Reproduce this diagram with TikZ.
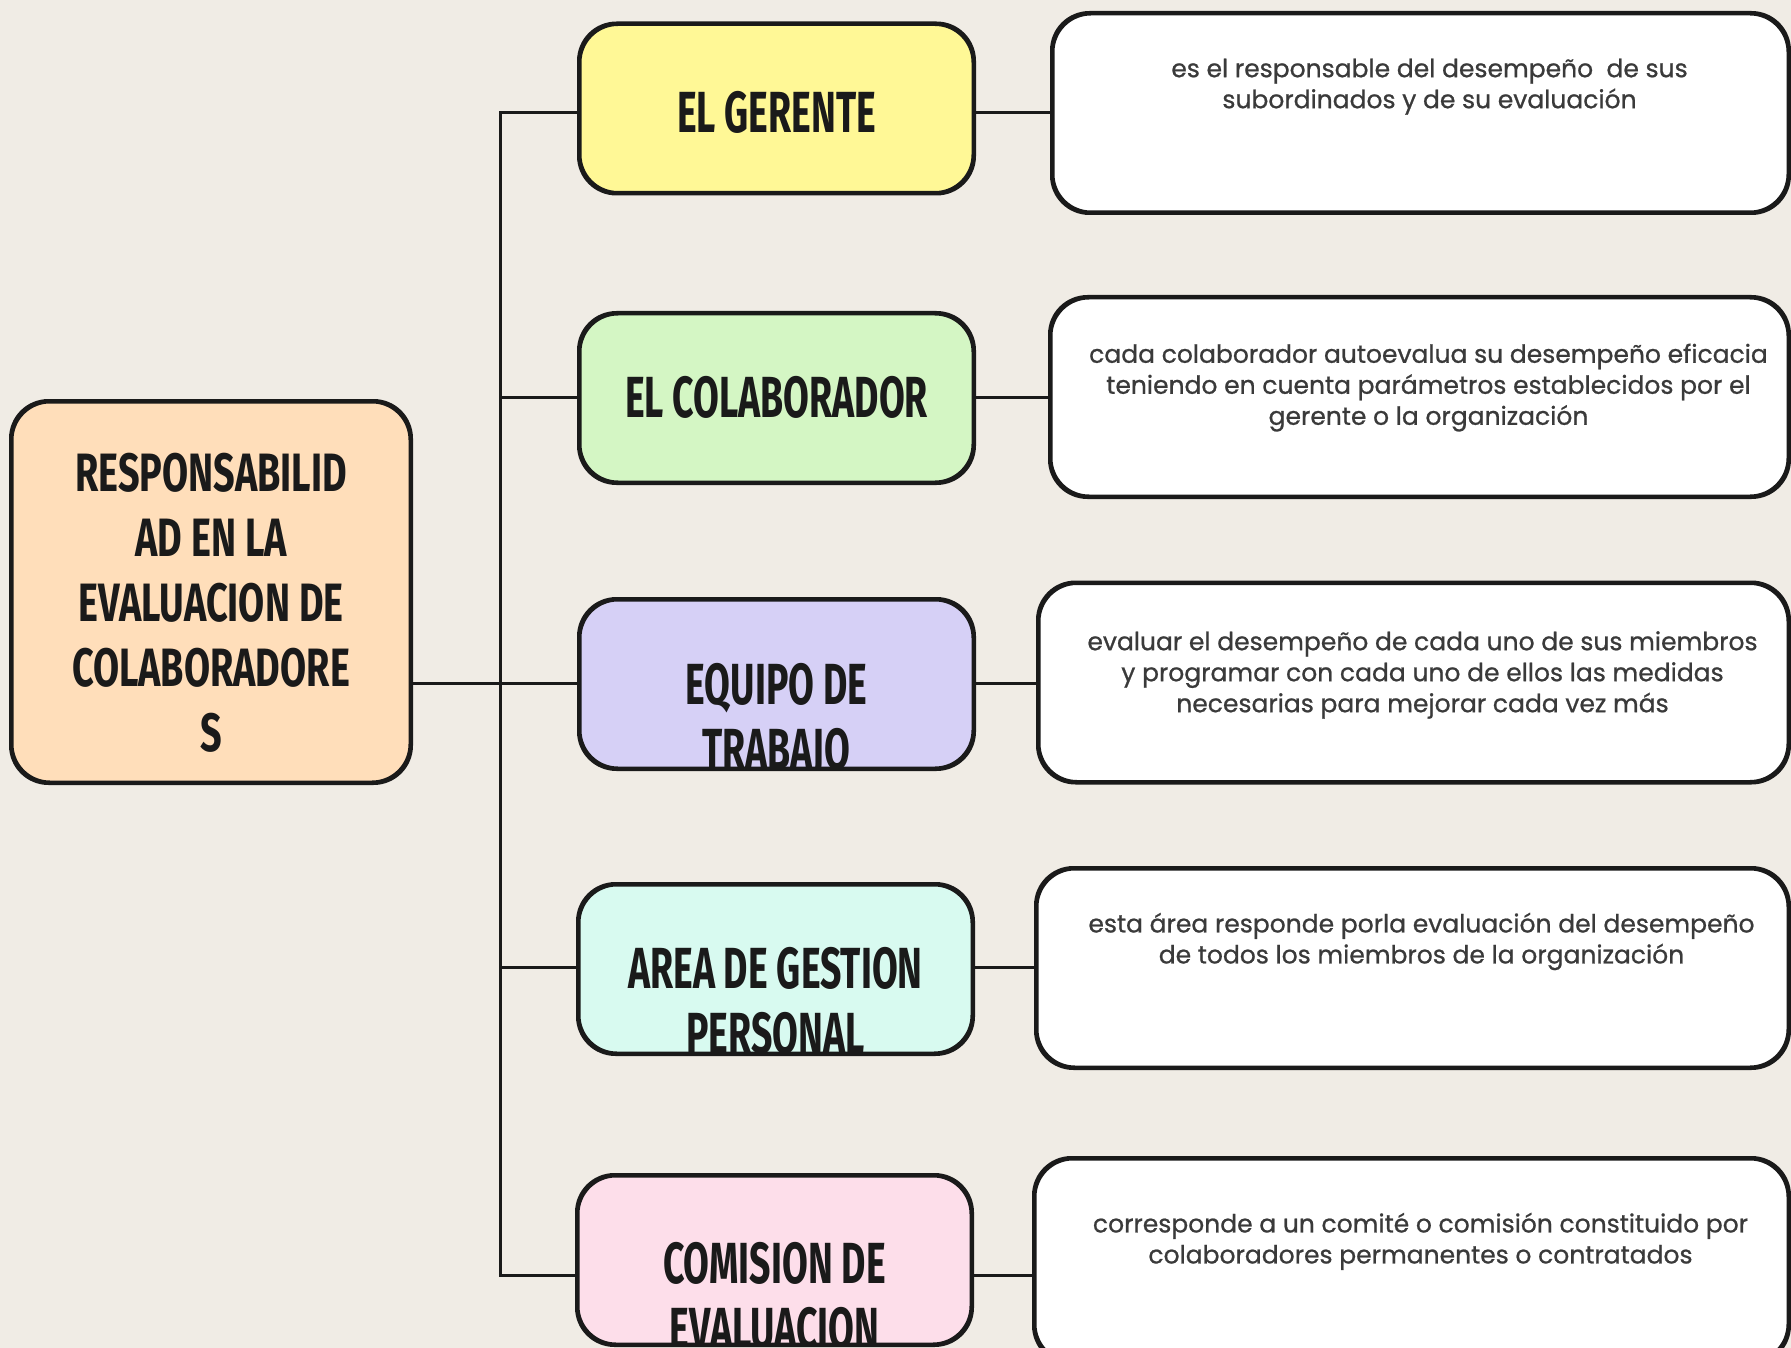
\documentclass[tikz,border=0pt]{standalone}
\usepackage{fontspec}
\newfontfamily\descfont[FakeBold=0.8]{Poppins}
\newfontfamily\capfont[FakeStretch=0.645]{Fira Sans}
\newfontfamily\rootfont[FakeStretch=0.7]{Fira Sans}
\definecolor{paper}{RGB}{240,236,229}
\definecolor{ink}{RGB}{26,26,26}
\definecolor{desc}{RGB}{58,58,58}
\definecolor{cpeach}{RGB}{255,222,186}
\definecolor{cyellow}{RGB}{255,248,150}
\definecolor{cgreen}{RGB}{212,246,196}
\definecolor{cpurple}{RGB}{214,208,246}
\definecolor{ccyan}{RGB}{216,250,240}
\definecolor{cpink}{RGB}{253,222,234}
\begin{document}
\begin{tikzpicture}[x=1pt,y=-1pt,
  box/.style={draw=ink, line width=3pt, rounded corners=38pt, inner sep=0pt},
  leftbox/.style={box, minimum width=393pt, minimum height=168pt},
  descbox/.style={box, fill=white, minimum height=198pt},
  caplabel/.style={font=\capfont\bfseries\fontsize{58}{65}\selectfont, align=center, inner sep=0pt, text=ink},
  desctext/.style={font=\descfont\fontsize{25}{31}\selectfont, align=center, inner sep=0pt, text=desc},
  link/.style={draw=ink, line width=3pt}]
\fill[paper] (0,0) rectangle (1791,1348);
\useasboundingbox (0,0) rectangle (1791,1348);

% joints on the trunk
\coordinate (t1) at (500,113);
\coordinate (t2) at (500,397);
\coordinate (t3) at (500,683);
\coordinate (t4) at (500,967);
\coordinate (t5) at (500,1275);

% boxes (shapes only, texts added afterwards)
\path
  node[box, fill=cpeach, minimum width=398pt, minimum height=380pt] (root) at (211,592) {}
  node[leftbox, fill=cyellow] (lb1) at (776.5,108.5) {}
  node[leftbox, fill=cgreen]  (lb2) at (776.5,398) {}
  node[leftbox, fill=cpurple] (lb3) at (776.5,684) {}
  node[leftbox, fill=ccyan]   (lb4) at (775.5,969) {}
  node[leftbox, fill=cpink]   (lb5) at (774.5,1260) {}
  node[descbox, minimum width=735pt] (tb1) at (1420.5,113) {}
  node[descbox, minimum width=737pt] (tb2) at (1419.5,397) {}
  node[descbox, minimum width=749pt] (tb3) at (1413.5,682.5) {}
  node[descbox, minimum width=751pt] (tb4) at (1412.5,968) {}
  node[descbox, minimum width=753pt, minimum height=203pt] (tb5) at (1411.5,1260.5) {};

% connectors
\draw[link] (t1 -| lb1.west) -- (t1) -- (t5) -- (t5 -| lb5.west);
\draw[link] (t2) -- (t2 -| lb2.west);
\draw[link] (root.east |- t3) -- (t3 -| lb3.west);
\draw[link] (t4) -- (t4 -| lb4.west);
\draw[link] (lb1.east |- t1) -- (t1 -| tb1.west);
\draw[link] (lb2.east |- t2) -- (t2 -| tb2.west);
\draw[link] (lb3.east |- t3) -- (t3 -| tb3.west);
\draw[link] (lb4.east |- t4) -- (t4 -| tb4.west);
\draw[link] (lb5.east |- t5) -- (t5 -| tb5.west);

% redraw box outlines on top of the connector ends
\foreach \b in {root,lb1,lb2,lb3,lb4,lb5,tb1,tb2,tb3,tb4,tb5}{
  \draw[ink, line width=3pt, rounded corners=38pt] (\b.south west) rectangle (\b.north east);
}

% texts
\node[caplabel, font=\rootfont\bfseries\fontsize{54}{65}\selectfont] (rootlabel) at (211,603)
  {RESPONSABILID\\AD EN LA\\EVALUACION DE\\COLABORADORE\\S};
\node[caplabel] (l1) at (776.5,112) {EL GERENTE};
\node[caplabel] (l2) at (776.5,397) {EL COLABORADOR};
\begin{scope}
  \clip[rounded corners=38pt] (lb3.south west) rectangle (lb3.north east);
  \node[caplabel, anchor=north] (l3) at (776.5,663) {EQUIPO DE\\TRABAJO};
\end{scope}
\begin{scope}
  \clip[rounded corners=38pt] (lb4.south west) rectangle (lb4.north east);
  \node[caplabel, anchor=north] (l4) at (775.5,947) {AREA DE GESTION\\PERSONAL};
\end{scope}
\begin{scope}
  \clip[rounded corners=38pt] (lb5.south west) rectangle (lb5.north east);
  \node[caplabel, anchor=north] (l5) at (774.5,1242) {COMISION DE\\EVALUACION};
\end{scope}

\node[desctext, anchor=north] (d1) at ([xshift=9pt,yshift=-46pt]tb1.north)
  {\rule{0pt}{18pt}es el responsable del desempeño\ \ de sus\\subordinados y de su evaluación};
\node[desctext, anchor=north] (d2) at ([xshift=9pt,yshift=-47pt]tb2.north)
  {\rule{0pt}{18pt}cada colaborador autoevalua su desempeño eficacia\\teniendo en cuenta parámetros establecidos por el\\gerente o la organización};
\node[desctext, anchor=north] (d3) at ([xshift=9pt,yshift=-49pt]tb3.north)
  {\rule{0pt}{18pt}evaluar el desempeño de cada uno de sus miembros\\y programar con cada uno de ellos las medidas\\necesarias para mejorar cada vez más};
\node[desctext, anchor=north] (d4) at ([xshift=9pt,yshift=-45pt]tb4.north)
  {\rule{0pt}{18pt}esta área responde porla evaluación del desempeño\\de todos los miembros de la organización};
\node[desctext, anchor=north] (d5) at ([xshift=9pt,yshift=-55pt]tb5.north)
  {\rule{0pt}{18pt}corresponde a un comité o comisión constituido por\\colaboradores permanentes o contratados};
\end{tikzpicture}
\end{document}
